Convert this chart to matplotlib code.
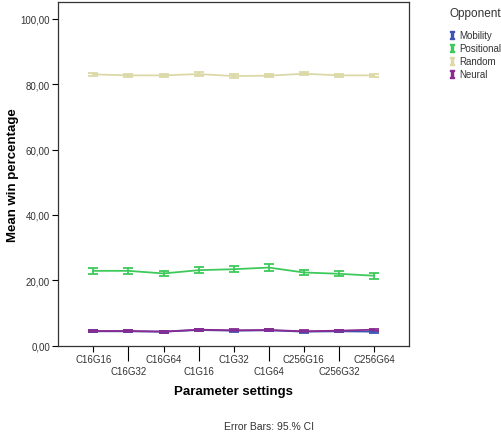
import matplotlib.pyplot as plt
from matplotlib.lines import Line2D
import numpy as np

plt.rcParams["font.family"] = ["Liberation Sans", "DejaVu Sans"]

settings = ["C16G16", "C16G32", "C16G64", "C1G16", "C1G32", "C1G64",
            "C256G16", "C256G32", "C256G64"]
opponents = ["Mobility", "Positional", "Random", "Neural"]

mobility = [4.4, 4.4, 4.3, 4.8, 4.6, 4.7, 4.3, 4.4, 4.3]
positional = [22.9, 22.9, 22.1, 23.1, 23.4, 23.9, 22.4, 22.0, 21.4]
random_ = [83.0, 82.7, 82.7, 83.1, 82.5, 82.6, 83.2, 82.7, 82.7]
neural = [4.5, 4.5, 4.3, 4.9, 4.7, 4.8, 4.4, 4.6, 4.9]

mobility_ci = [0.3] * 9
positional_ci = [0.9, 0.9, 0.9, 0.9, 0.9, 1.0, 0.9, 0.8, 0.9]
random_ci = [0.5] * 9
neural_ci = [0.3] * 9

colors = ["#3d55b4", "#3ec95b", "#dcd9a8", "#8a2a90"]

fig = plt.figure(figsize=(5.02, 4.35), dpi=100)
ax = fig.add_axes([0.116, 0.203, 0.699, 0.789])

x = np.arange(len(settings))
series = [(mobility, mobility_ci), (positional, positional_ci),
          (random_, random_ci), (neural, neural_ci)]
for (vals, ci), c in zip(series, colors):
    ax.errorbar(x, vals, yerr=ci, color=c, lw=1.3, elinewidth=1.3,
                capsize=3.5, capthick=1.3)

ax.set_xlim(-1, 9)
ax.set_ylim(0, 105)
ax.set_yticks([0, 20, 40, 60, 80, 100])
ax.set_yticklabels(["0,00", "20,00", "40,00", "60,00", "80,00", "100,00"])
ax.set_xticks(x)
ax.set_xticklabels([s if i % 2 == 0 else "\n" + s for i, s in enumerate(settings)])
ax.tick_params(labelsize=7, labelcolor="#333333", length=4, width=0.8, pad=2)
for i, t in enumerate(ax.xaxis.get_major_ticks()):
    if i % 2 == 1:
        t.tick1line.set_markersize(11)
for sp in ax.spines.values():
    sp.set_color("#333333")
    sp.set_linewidth(0.9)

ax.set_ylabel("Mean win percentage", fontsize=9.5, fontweight="bold", labelpad=1)
ax.set_xlabel("Parameter settings", fontsize=9.5, fontweight="bold", labelpad=7)

handles = [Line2D([], [], marker=r"$\mathtt{I}$", linestyle="none", color=c,
                  markersize=6) for c in colors]
leg = fig.legend(handles, opponents, title="Opponent", loc="upper left",
                 bbox_to_anchor=(0.895, 0.982), frameon=False, fontsize=7,
                 title_fontsize=8.5, handlelength=0.5, handletextpad=0.5,
                 labelspacing=0.32, borderaxespad=0, borderpad=0)
leg._legend_box.align = "left"
leg._legend_box.sep = 8
for t in leg.get_texts():
    t.set_color("#333333")
leg.get_title().set_color("#333333")

fig.text(0.535, 0.012, "Error Bars: 95.% CI", ha="center", fontsize=7.5,
         color="#333333")

fig.savefig("out.png", dpi=100)
